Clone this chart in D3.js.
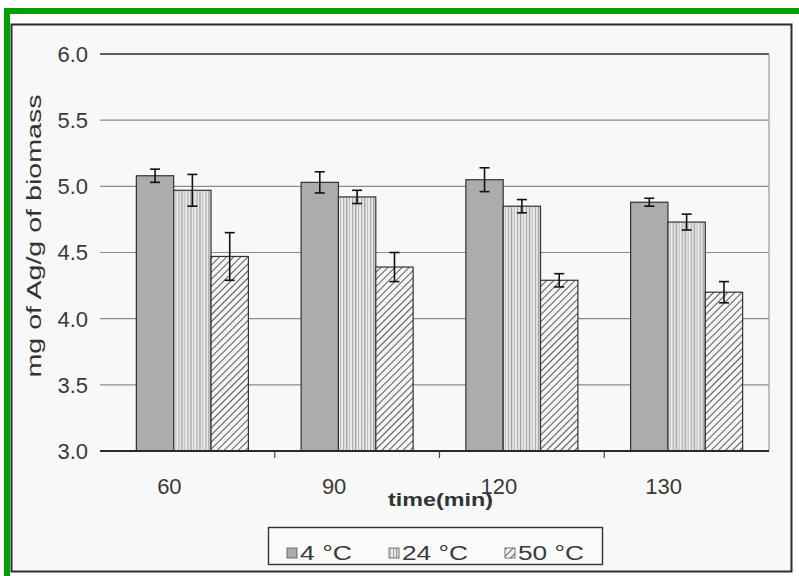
<!DOCTYPE html>
<html>
<head>
<meta charset="utf-8">
<script src="https://cdn.jsdelivr.net/npm/d3@7"></script>
<style>
  html, body { margin: 0; padding: 0; background: #ffffff; }
  svg { display: block; font-family: "Liberation Sans", Arial, sans-serif; }
</style>
</head>
<body>
<svg id="chart" width="799" height="576"></svg>
<script>
// Silver uptake by biomass at three temperatures
const times = ["60", "90", "120", "130"];
const seriesNames = ["4 °C", "24 °C", "50 °C"];
const values4 = [5.08, 5.03, 5.05, 4.88];
const values24 = [4.97, 4.92, 4.85, 4.73];
const values50 = [4.47, 4.39, 4.29, 4.20];
const err4 = [0.05, 0.08, 0.09, 0.03];
const err24 = [0.12, 0.05, 0.05, 0.06];
const err50 = [0.18, 0.11, 0.05, 0.08];
const yTicks = [3.0, 3.5, 4.0, 4.5, 5.0, 5.5, 6.0];

const seriesValues = [values4, values24, values50];
const seriesErr = [err4, err24, err50];

const svg = d3.select("#chart");
const defs = svg.append("defs");

// vertical stripe fill
const stripes = defs.append("pattern")
  .attr("id", "stripes").attr("patternUnits", "userSpaceOnUse")
  .attr("width", 9).attr("height", 9);
stripes.append("rect").attr("width", 9).attr("height", 9).attr("fill", "#ececec");
stripes.append("rect").attr("x", 0).attr("width", 1.3).attr("height", 9).attr("fill", "#9a9a9a");
stripes.append("rect").attr("x", 3).attr("width", 1).attr("height", 9).attr("fill", "#b8b8b8");
stripes.append("rect").attr("x", 6).attr("width", 1.2).attr("height", 9).attr("fill", "#a8a8a8");

// diagonal hatch fill
const hatch = defs.append("pattern")
  .attr("id", "hatch").attr("patternUnits", "userSpaceOnUse")
  .attr("width", 5).attr("height", 5)
  .attr("patternTransform", "rotate(45)");
hatch.append("rect").attr("width", 5).attr("height", 5).attr("fill", "#f4f4f4");
hatch.append("line").attr("x1", 0).attr("y1", 0).attr("x2", 0).attr("y2", 5)
  .attr("stroke", "#222").attr("stroke-width", 1.5);

const fills = ["#acacac", "url(#stripes)", "url(#hatch)"];

// green outer edge and chart frame
svg.append("rect").attr("x", 4).attr("y", 8).attr("width", 795).attr("height", 6).attr("fill", "#00a000");
svg.append("rect").attr("x", 4).attr("y", 8).attr("width", 6).attr("height", 568).attr("fill", "#00a000");
svg.append("rect").attr("x", 11.5).attr("y", 24.5).attr("width", 780).attr("height", 547)
  .attr("fill", "#f8f8f8").attr("stroke", "#2e2e2e").attr("stroke-width", 2);

const plotLeft = 110, plotRight = 769, plotTop = 54, plotBottom = 451;

const y = d3.scaleLinear().domain([3.0, 6.0]).range([plotBottom, plotTop]);
const x0 = d3.scaleBand().domain(times).range([plotLeft, plotRight])
  .paddingInner(0.32).paddingOuter(0.16);
const x1 = d3.scaleBand().domain(d3.range(seriesNames.length)).range([0, x0.bandwidth()]);

// gridlines
svg.append("g").selectAll("line").data(yTicks.filter(t => t > 3.0 && t < 6.0)).join("line")
  .attr("x1", plotLeft - 10).attr("x2", plotRight)
  .attr("y1", d => y(d)).attr("y2", d => y(d))
  .attr("stroke", "#8c8c8c").attr("stroke-width", 1.2);

// plot border: top and right
svg.append("line").attr("x1", plotLeft - 10).attr("x2", plotRight)
  .attr("y1", y(6.0)).attr("y2", y(6.0)).attr("stroke", "#2a2a2a").attr("stroke-width", 1.6);
svg.append("line").attr("x1", plotRight).attr("x2", plotRight)
  .attr("y1", y(6.0)).attr("y2", plotBottom).attr("stroke", "#9a9a9a").attr("stroke-width", 1.2);

// y tick labels
svg.append("g").selectAll("text").data(yTicks).join("text")
  .attr("x", 88).attr("y", d => y(d)).attr("dy", "0.36em")
  .attr("text-anchor", "end").attr("font-size", 22).attr("fill", "#3a3a3a")
  .text(d => d3.format(".1f")(d));

// bars
const groups = svg.append("g").selectAll("g").data(times).join("g")
  .attr("transform", d => `translate(${x0(d)},0)`);

groups.each(function(t, i) {
  const g = d3.select(this);
  seriesValues.forEach((vals, s) => {
    g.append("rect")
      .attr("x", x1(s)).attr("width", x1.bandwidth())
      .attr("y", y(vals[i])).attr("height", y(3.0) - y(vals[i]))
      .attr("fill", fills[s]).attr("stroke", "#333").attr("stroke-width", 1.2);
  });
});

// error bars
groups.each(function(t, i) {
  const g = d3.select(this);
  seriesValues.forEach((vals, s) => {
    const cx = x1(s) + x1.bandwidth() / 2;
    const hi = y(vals[i] + seriesErr[s][i]);
    const lo = y(vals[i] - seriesErr[s][i]);
    const eb = g.append("g").attr("stroke", "#111").attr("stroke-width", 1.6);
    eb.append("line").attr("x1", cx).attr("x2", cx).attr("y1", hi).attr("y2", lo);
    eb.append("line").attr("x1", cx - 5).attr("x2", cx + 5).attr("y1", hi).attr("y2", hi);
    eb.append("line").attr("x1", cx - 5).attr("x2", cx + 5).attr("y1", lo).attr("y2", lo);
  });
});

// x axis line and ticks between categories
svg.append("line").attr("x1", plotLeft - 10).attr("x2", plotRight)
  .attr("y1", plotBottom).attr("y2", plotBottom).attr("stroke", "#2a2a2a").attr("stroke-width", 1.8);
const step = x0.step();
svg.append("g").selectAll("line").data(times.slice(1)).join("line")
  .attr("x1", d => x0(d) - step * x0.paddingInner() / 2)
  .attr("x2", d => x0(d) - step * x0.paddingInner() / 2)
  .attr("y1", plotBottom).attr("y2", plotBottom + 7)
  .attr("stroke", "#444").attr("stroke-width", 1.2);

// category labels
svg.append("g").selectAll("text").data(times).join("text")
  .attr("x", d => x0(d) + x0.bandwidth() / 2 - 23).attr("y", 486).attr("dy", "0.36em")
  .attr("text-anchor", "middle").attr("font-size", 22).attr("fill", "#3a3a3a")
  .text(d => d);

// axis titles
svg.append("text").attr("x", 388).attr("y", 506)
  .attr("font-size", 18).attr("font-weight", "bold").attr("fill", "#333")
  .attr("textLength", 105).attr("lengthAdjust", "spacingAndGlyphs")
  .text("time(min)");

svg.append("text")
  .attr("transform", "translate(41,236) rotate(-90)")
  .attr("text-anchor", "middle").attr("font-size", 20).attr("fill", "#333")
  .attr("textLength", 283).attr("lengthAdjust", "spacingAndGlyphs")
  .text("mg of Ag/g of biomass");

// legend
const legend = svg.append("g");
legend.append("rect").attr("x", 268.5).attr("y", 527.5).attr("width", 334).attr("height", 37)
  .attr("fill", "#fafafa").attr("stroke", "#333").attr("stroke-width", 1.4);
const legendX = [287, 389, 505];
const legendLen = [52, 66, 66];
seriesNames.forEach((name, s) => {
  legend.append("rect").attr("x", legendX[s]).attr("y", 548).attr("width", 10).attr("height", 10)
    .attr("fill", fills[s]).attr("stroke", "#555").attr("stroke-width", 0.8);
  legend.append("text").attr("x", legendX[s] + 13).attr("y", 553).attr("dy", "0.36em")
    .attr("font-size", 20).attr("fill", "#3a3a3a")
    .attr("textLength", legendLen[s]).attr("lengthAdjust", "spacingAndGlyphs")
    .text(name);
});
</script>
</body>
</html>
